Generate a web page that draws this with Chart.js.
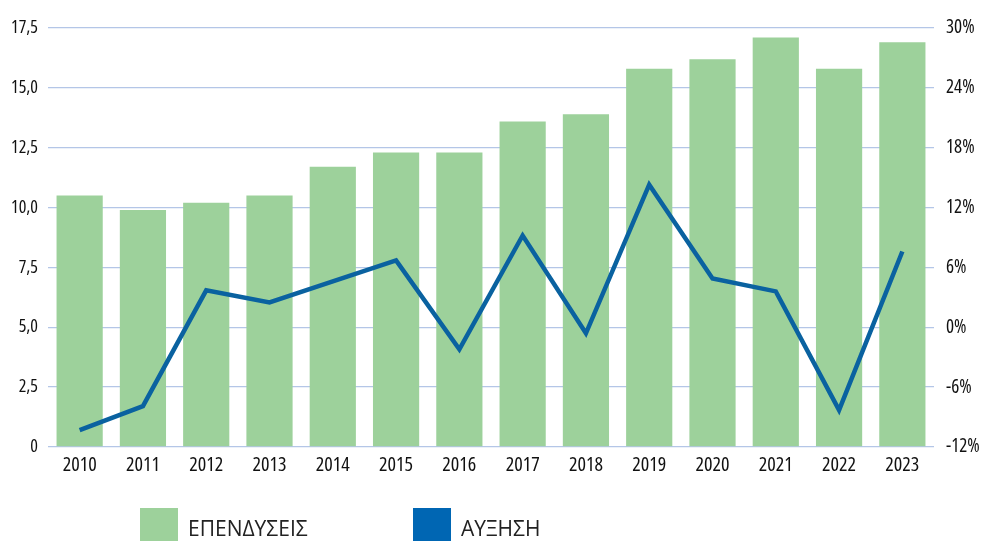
<!DOCTYPE html>
<html>
<head>
<meta charset="utf-8">
<script src="https://cdn.jsdelivr.net/npm/chart.js@4"></script>
<style>
  html, body { margin: 0; padding: 0; background: #fff; }
  #wrap { position: relative; width: 983px; height: 541px; overflow: hidden; }
  canvas { position: absolute; left: 0; top: 0; }
  .lgbox { position: absolute; width: 38px; height: 34px; }
  .lgtxt { position: absolute; font-family: "Open Sans", sans-serif; font-weight: 400; font-size: 21px; line-height: 28px; color: #222; white-space: nowrap; }
</style>
</head>
<body>
<div id="wrap">
  <canvas id="c" width="983" height="541"></canvas>
  <div class="lgbox" id="lb1" style="left:140px;top:508px;"></div>
  <div class="lgtxt" id="lt1" style="left:188px;top:514px;"></div>
  <div class="lgbox" id="lb2" style="left:413px;top:508px;"></div>
  <div class="lgtxt" id="lt2" style="left:461px;top:514px;"></div>
</div>
<script>
const categories = ["2010","2011","2012","2013","2014","2015","2016","2017","2018","2019","2020","2021","2022","2023"];
const investments = [10.5, 9.9, 10.2, 10.5, 11.7, 12.3, 12.3, 13.6, 13.9, 15.8, 16.2, 17.1, 15.8, 16.9];
const growth = [-10.3, -7.9, 3.7, 2.5, 4.6, 6.7, -2.2, 9.2, -0.6, 14.3, 4.9, 3.6, -8.3, 7.6];
const seriesNames = ["ΕΠΕΝΔΥΣΕΙΣ", "ΑΥΞΗΣΗ"];
const leftTickLabels = ["0", "2,5", "5,0", "7,5", "10,0", "12,5", "15,0", "17,5"];
const rightTickLabels = ["-12%", "-6%", "0%", "6%", "12%", "18%", "24%", "30%"];

const GREEN = "#9dd19b";
const BLUE_LINE = "#0a62a0";
const BLUE_LEGEND = "#0066b3";
const GRID = "#b4c6e7";
const TXT = "#111111";
const FONT = "'Open Sans', sans-serif";

document.getElementById("lb1").style.background = GREEN;
document.getElementById("lb2").style.background = BLUE_LEGEND;
document.getElementById("lt1").textContent = seriesNames[0];
document.getElementById("lt2").textContent = seriesNames[1];

// make canvas text condensed (Open Sans width axis)
const canvasEl = document.getElementById("c");
const ctx2d = canvasEl.getContext("2d");
const fontDesc = Object.getOwnPropertyDescriptor(CanvasRenderingContext2D.prototype, "font");
Object.defineProperty(ctx2d, "font", {
  configurable: true,
  get() { return fontDesc.get.call(this); },
  set(v) { fontDesc.set.call(this, v); try { this.fontStretch = "condensed"; } catch (e) {} }
});

new Chart(ctx2d, {
  data: {
    labels: categories,
    datasets: [
      {
        type: "line",
        label: seriesNames[1],
        data: growth,
        yAxisID: "y2",
        borderColor: BLUE_LINE,
        backgroundColor: BLUE_LINE,
        borderWidth: 4.5,
        pointRadius: 0,
        tension: 0,
        order: 0
      },
      {
        type: "bar",
        label: seriesNames[0],
        data: investments,
        yAxisID: "y",
        backgroundColor: GREEN,
        categoryPercentage: 0.73,
        barPercentage: 1.0,
        order: 1
      }
    ]
  },
  options: {
    responsive: false,
    animation: false,
    devicePixelRatio: 1,
    layout: { padding: { top: 28, left: 0, right: 0, bottom: 0 } },
    plugins: { legend: { display: false }, tooltip: { enabled: false } },
    scales: {
      x: {
        grid: { display: false, drawTicks: false },
        border: { display: false },
        ticks: { color: TXT, font: { family: FONT, size: 20 }, padding: 6, maxRotation: 0, autoSkip: false },
        afterFit: (s) => { s.height = 94; }
      },
      y: {
        position: "left",
        min: 0, max: 17.5,
        grid: { color: GRID, lineWidth: 1.3, drawTicks: false },
        border: { display: false },
        ticks: {
          stepSize: 2.5,
          color: TXT,
          font: { family: FONT, size: 18 },
          padding: 10,
          callback: (v, i) => leftTickLabels[i]
        },
        afterFit: (s) => { s.width = 48; }
      },
      y2: {
        position: "right",
        min: -12, max: 30,
        grid: { display: false, drawTicks: false },
        border: { display: false },
        ticks: {
          stepSize: 6,
          color: TXT,
          font: { family: FONT, size: 19 },
          padding: 12,
          callback: (v, i) => rightTickLabels[i]
        },
        afterFit: (s) => { s.width = 49; }
      }
    }
  }
});
</script>
</body>
</html>
